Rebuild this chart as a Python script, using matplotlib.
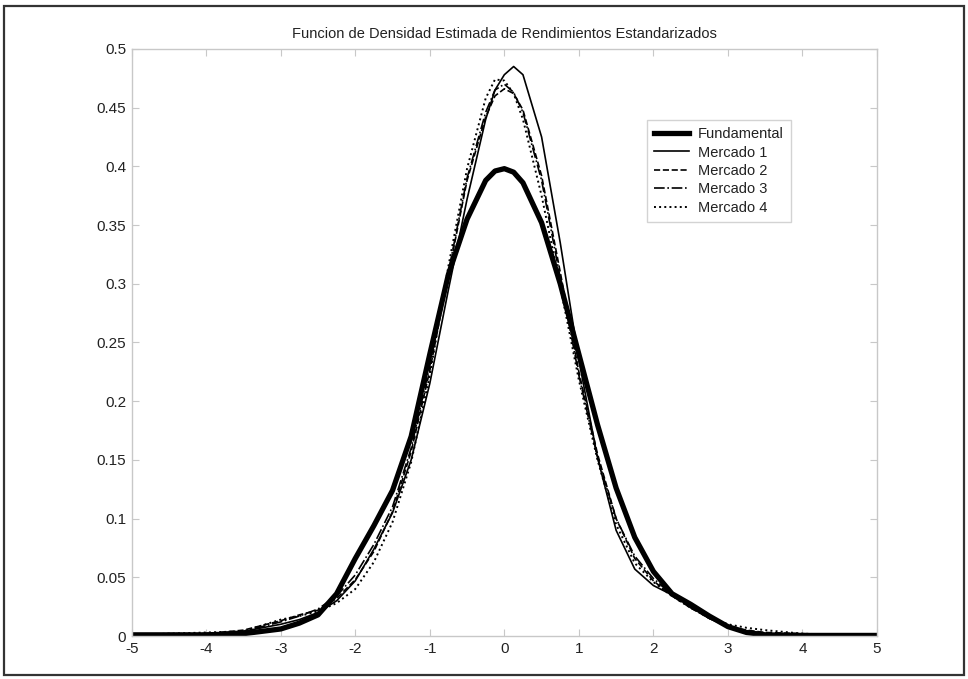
import matplotlib
matplotlib.use("Agg")
import matplotlib.pyplot as plt
from matplotlib.patches import Rectangle

plt.rcParams['font.family'] = ['Liberation Sans', 'DejaVu Sans']

# Estimated densities
x = [-5, -4.5, -4, -3.5, -3, -2.75, -2.5, -2.25, -2, -1.75, -1.5, -1.25, -1,
     -0.75, -0.5, -0.25, -0.125, 0, 0.125, 0.25, 0.5, 0.75, 1, 1.25, 1.5,
     1.75, 2, 2.25, 2.5, 2.75, 3, 3.25, 3.5, 4, 4.5, 5]

fundamental = [0.001, 0.001, 0.001, 0.002, 0.006, 0.011, 0.018, 0.036, 0.066,
               0.094, 0.124, 0.170, 0.240, 0.308, 0.355, 0.388, 0.396, 0.398,
               0.395, 0.386, 0.352, 0.300, 0.240, 0.180, 0.126, 0.084, 0.055,
               0.036, 0.027, 0.017, 0.008, 0.003, 0.001, 0.0005, 0.0005, 0.0005]

mercado1 = [0.001, 0.001, 0.002, 0.004, 0.010, 0.014, 0.020, 0.030, 0.047,
            0.074, 0.105, 0.150, 0.215, 0.295, 0.372, 0.440, 0.465, 0.478,
            0.485, 0.478, 0.425, 0.335, 0.235, 0.152, 0.090, 0.057, 0.043,
            0.035, 0.025, 0.015, 0.008, 0.004, 0.002, 0.001, 0.0005, 0.0005]

mercado2 = [0.001, 0.002, 0.002, 0.005, 0.013, 0.018, 0.022, 0.032, 0.048,
            0.072, 0.106, 0.157, 0.226, 0.308, 0.388, 0.442, 0.460, 0.466,
            0.462, 0.448, 0.392, 0.310, 0.225, 0.155, 0.100, 0.066, 0.047,
            0.034, 0.024, 0.015, 0.008, 0.005, 0.003, 0.002, 0.001, 0.0005]

mercado3 = [0.001, 0.001, 0.002, 0.004, 0.012, 0.017, 0.023, 0.034, 0.052,
            0.078, 0.110, 0.160, 0.230, 0.310, 0.390, 0.446, 0.465, 0.470,
            0.463, 0.446, 0.388, 0.305, 0.222, 0.152, 0.100, 0.068, 0.049,
            0.035, 0.024, 0.015, 0.008, 0.004, 0.002, 0.001, 0.0005, 0.0005]

mercado4 = [0.001, 0.002, 0.003, 0.004, 0.014, 0.017, 0.021, 0.028, 0.040,
            0.063, 0.097, 0.148, 0.222, 0.315, 0.398, 0.458, 0.474, 0.473,
            0.462, 0.440, 0.375, 0.298, 0.218, 0.150, 0.095, 0.062, 0.046,
            0.034, 0.024, 0.016, 0.010, 0.007, 0.005, 0.002, 0.001, 0.0005]

xticks = [-5, -4, -3, -2, -1, 0, 1, 2, 3, 4, 5]
yticks = [0, 0.05, 0.1, 0.15, 0.2, 0.25, 0.3, 0.35, 0.4, 0.45, 0.5]
yticklabels = ['0', '0.05', '0.1', '0.15', '0.2', '0.25', '0.3', '0.35',
               '0.4', '0.45', '0.5']

fig = plt.figure(figsize=(9.68, 6.79), dpi=100)
ax = fig.add_axes([0.136, 0.0633, 0.77, 0.8647])

ax.plot(x, fundamental, color='black', lw=3.8, ls='-', label='Fundamental')
ax.plot(x, mercado1, color='black', lw=1.2, ls='-', label='Mercado 1')
ax.plot(x, mercado2, color='black', lw=1.2, ls='--', label='Mercado 2')
ax.plot(x, mercado3, color='black', lw=1.2, ls='-.', label='Mercado 3')
ax.plot(x, mercado4, color='black', lw=1.4, ls=':', label='Mercado 4')

ax.set_xlim(-5, 5)
ax.set_ylim(0, 0.5)
ax.set_xticks(xticks)
ax.set_xticklabels([str(t) for t in xticks])
ax.set_yticks(yticks)
ax.set_yticklabels(yticklabels)

for s in ax.spines.values():
    s.set_color('#c8c8c8')
    s.set_linewidth(1.0)
ax.tick_params(direction='in', length=5, width=0.8, color='#c8c8c8',
               top=True, right=True, labelsize=11, labelcolor='#222222', pad=4)

ax.set_title('Funcion de Densidad Estimada de Rendimientos Estandarizados',
             fontsize=10.5, color='#222222', pad=8)

leg = ax.legend(loc='upper left', bbox_to_anchor=(0.691, 0.879), fontsize=10.5,
                frameon=True, fancybox=False, edgecolor='#c8c8c8',
                handlelength=2.4, borderpad=0.5, labelspacing=0.3,
                handletextpad=0.6, borderaxespad=0)
leg.get_frame().set_linewidth(1.0)
for t in leg.get_texts():
    t.set_color('#222222')

# outer frame around the whole figure
fig.patches.append(Rectangle((0.004, 0.006), 0.992, 0.985,
                             transform=fig.transFigure, fill=False,
                             edgecolor='#333333', linewidth=1.6))

fig.savefig('out.png', dpi=100)
